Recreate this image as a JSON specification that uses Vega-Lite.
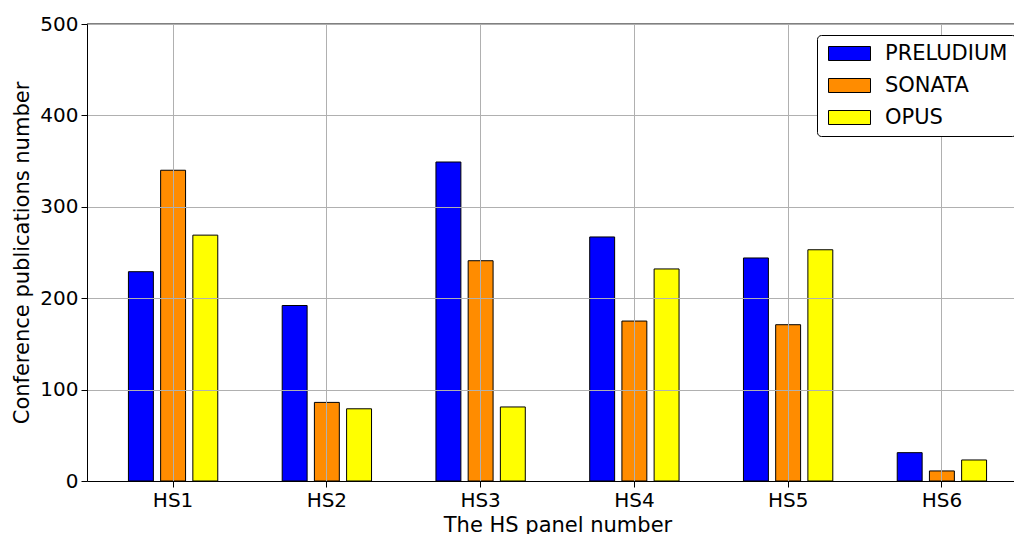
{
  "$schema": "https://vega.github.io/schema/vega-lite/v6.json",
  "width": 927,
  "height": 457,
  "autosize": {"type": "none"},
  "padding": {"left": 87, "top": 24, "right": 0, "bottom": 53},
  "background": "white",
  "config": {
    "view": {"stroke": null},
    "font": "DejaVu Sans"
  },
  "data": {
    "values": [
      {"panel": "HS1", "program": "PRELUDIUM", "value": 229},
      {"panel": "HS1", "program": "SONATA", "value": 340},
      {"panel": "HS1", "program": "OPUS", "value": 269},
      {"panel": "HS2", "program": "PRELUDIUM", "value": 192},
      {"panel": "HS2", "program": "SONATA", "value": 86},
      {"panel": "HS2", "program": "OPUS", "value": 79},
      {"panel": "HS3", "program": "PRELUDIUM", "value": 349},
      {"panel": "HS3", "program": "SONATA", "value": 241},
      {"panel": "HS3", "program": "OPUS", "value": 81},
      {"panel": "HS4", "program": "PRELUDIUM", "value": 267},
      {"panel": "HS4", "program": "SONATA", "value": 175},
      {"panel": "HS4", "program": "OPUS", "value": 232},
      {"panel": "HS5", "program": "PRELUDIUM", "value": 244},
      {"panel": "HS5", "program": "SONATA", "value": 171},
      {"panel": "HS5", "program": "OPUS", "value": 253},
      {"panel": "HS6", "program": "PRELUDIUM", "value": 31},
      {"panel": "HS6", "program": "SONATA", "value": 11},
      {"panel": "HS6", "program": "OPUS", "value": 23}
    ]
  },
  "layer": [
    {
      "mark": {"type": "bar", "stroke": "black", "strokeWidth": 1},
      "encoding": {
        "x": {
          "field": "panel",
          "type": "nominal",
          "scale": {"range": [0, 941], "paddingInner": 0, "paddingOuter": 0.06},
          "axis": {
            "title": "The HS panel number",
            "labelAngle": 0,
            "labelFontSize": 20,
            "labelColor": "black",
            "labelPadding": 3,
            "titleFontSize": 21,
            "titleFontWeight": "normal",
            "titleColor": "black",
            "titlePadding": 4,
            "domainColor": "black",
            "tickColor": "black",
            "tickSize": 6,
            "grid": true,
            "gridColor": "#b0b0b0",
            "gridWidth": 1,
            "zindex": 1
          }
        },
        "xOffset": {
          "field": "program",
          "sort": ["PRELUDIUM", "SONATA", "OPUS"],
          "scale": {"paddingInner": 0.226, "paddingOuter": 1.093}
        },
        "y": {
          "field": "value",
          "type": "quantitative",
          "scale": {"domain": [0, 500], "nice": false},
          "axis": {
            "title": "Conference publications number",
            "values": [0, 100, 200, 300, 400, 500],
            "labelFontSize": 20,
            "labelColor": "black",
            "labelPadding": 3,
            "titleFontSize": 21,
            "titleFontWeight": "normal",
            "titleColor": "black",
            "titlePadding": 7,
            "domainColor": "black",
            "tickColor": "black",
            "tickSize": 6,
            "grid": true,
            "gridColor": "#b0b0b0",
            "gridWidth": 1,
            "zindex": 1
          }
        },
        "color": {
          "field": "program",
          "type": "nominal",
          "sort": ["PRELUDIUM", "SONATA", "OPUS"],
          "scale": {
            "domain": ["PRELUDIUM", "SONATA", "OPUS"],
            "range": ["#0000ff", "#ff8c00", "#ffff00"]
          },
          "legend": {
            "title": null,
            "orient": "none",
            "legendX": 730,
            "legendY": 11,
            "zindex": 2,
            "direction": "vertical",
            "fillColor": "white",
            "strokeColor": "black",
            "cornerRadius": 4,
            "padding": 8,
            "labelFontSize": 21,
            "labelColor": "black",
            "labelOffset": 39,
            "rowPadding": 10,
            "symbolType": "M-1,-1L5,-1L5,1L-1,1Z",
            "symbolSize": 196,
            "symbolStrokeColor": "black",
            "symbolStrokeWidth": 1,
            "symbolOpacity": 1
          }
        }
      }
    },
    {
      "data": {"values": [{}]},
      "mark": {"type": "rule", "color": "black", "strokeWidth": 1},
      "encoding": {"y": {"datum": 500}}
    }
  ]
}
